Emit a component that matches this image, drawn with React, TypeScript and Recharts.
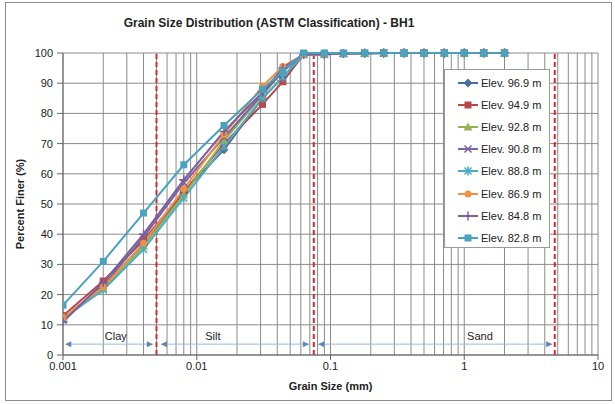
import React from 'react';
import { LineChart, Line, XAxis, YAxis, CartesianGrid, ReferenceLine, ReferenceDot } from 'recharts';

// sieve / hydrometer sizes (mm)
const grainSizes = [0.001, 0.002, 0.004, 0.008, 0.016, 0.031, 0.044, 0.063, 0.09, 0.125, 0.18, 0.25, 0.355, 0.5, 0.71, 1, 1.4, 2];

// percent finer per borehole elevation
const elev969 = [12, 23, 36.5, 54, 68, 85, 92, 99.5, 99.6, 99.8, 99.9, 100, 100, 100, 100, 100, 100, 100];
const elev949 = [13, 24.5, 38, 54, 70, 83, 90.5, 99.5, 99.6, 99.8, 99.9, 100, 100, 100, 100, 100, 100, 100];
const elev928 = [12, 22, 36, 53, 71, 86, 94, 99.5, 99.6, 99.8, 99.9, 100, 100, 100, 100, 100, 100, 100];
const elev908 = [11.5, 23, 39, 57, 72, 86.5, 94, 99.5, 99.6, 99.8, 99.9, 100, 100, 100, 100, 100, 100, 100];
const elev888 = [12, 21.5, 35, 52, 69, 85, 92, 99.5, 99.6, 99.8, 99.9, 100, 100, 100, 100, 100, 100, 100];
const elev869 = [12.5, 22.5, 37, 55, 73, 89, 95.5, 99.5, 99.6, 99.8, 99.9, 100, 100, 100, 100, 100, 100, 100];
const elev848 = [11, 24, 40, 58, 74, 87, 95, 99.5, 99.6, 99.8, 99.9, 100, 100, 100, 100, 100, 100, 100];
const elev828 = [16.5, 31, 47, 63, 76, 88, 94, 100, 100, 100, 100, 100, 100, 100, 100, 100, 100, 100];

const seriesValues = [elev969, elev949, elev928, elev908, elev888, elev869, elev848, elev828];
const seriesNames = ['Elev. 96.9 m', 'Elev. 94.9 m', 'Elev. 92.8 m', 'Elev. 90.8 m', 'Elev. 88.8 m', 'Elev. 86.9 m', 'Elev. 84.8 m', 'Elev. 82.8 m'];
const seriesColors = ['#4A6F9C', '#B8474A', '#94B356', '#7B62A0', '#4BACC6', '#F29143', '#7A5FA0', '#4AA3BC'];
const seriesMarkers = ['diamond', 'square', 'triangle', 'x', 'star', 'circle', 'plus', 'square'];

const xTicks = [0.001, 0.01, 0.1, 1, 10];
const yTicks = [0, 10, 20, 30, 40, 50, 60, 70, 80, 90, 100];
const minorGrid = [0.001, 0.01, 0.1, 1].flatMap((d) => [2, 3, 4, 5, 6, 7, 8, 9].map((m) => +(m * d).toPrecision(3)));

// ASTM boundaries and zone arrows
const boundarySizes = [0.005, 0.075, 4.75];
const zoneNames = ['Clay', 'Silt', 'Sand'];
const zoneFrom = [0.00104, 0.0054, 0.081];
const zoneTo = [0.0047, 0.069, 4.55];
const zoneLabelAt = [0.00248, 0.0132, 1.31];
const zoneLevel = 3.6;

const rows = grainSizes.map((size, i) => {
  const row: Record<string, number> = { size };
  seriesValues.forEach((vals, s) => { row['s' + s] = vals[i]; });
  return row;
});

function marker(kind: string, cx: number, cy: number, color: string, key?: string | number) {
  const r = 3.5;
  switch (kind) {
    case 'diamond':
      return <polygon key={key} points={`${cx},${cy - 4.5} ${cx + 4.5},${cy} ${cx},${cy + 4.5} ${cx - 4.5},${cy}`} fill={color} />;
    case 'square':
      return <rect key={key} x={cx - r} y={cy - r} width={2 * r} height={2 * r} fill={color} />;
    case 'triangle':
      return <polygon key={key} points={`${cx},${cy - 4.5} ${cx + 4.5},${cy + 3.5} ${cx - 4.5},${cy + 3.5}`} fill={color} />;
    case 'x':
      return <path key={key} d={`M${cx - r},${cy - r}L${cx + r},${cy + r}M${cx - r},${cy + r}L${cx + r},${cy - r}`} stroke={color} strokeWidth={1.5} fill="none" />;
    case 'star':
      return <path key={key} d={`M${cx - r},${cy - r}L${cx + r},${cy + r}M${cx - r},${cy + r}L${cx + r},${cy - r}M${cx},${cy - 4.5}L${cx},${cy + 4.5}`} stroke={color} strokeWidth={1.5} fill="none" />;
    case 'circle':
      return <circle key={key} cx={cx} cy={cy} r={3.5} fill={color} />;
    case 'plus':
      return <path key={key} d={`M${cx - 4.5},${cy}L${cx + 4.5},${cy}M${cx},${cy - 4.5}L${cx},${cy + 4.5}`} stroke={color} strokeWidth={1.5} fill="none" />;
    default:
      return <g key={key} />;
  }
}

const arrowHead = (dir: number) => (props: any) => {
  const { cx, cy } = props;
  const c = '#5B87B8';
  return <polygon points={`${cx},${cy} ${cx - dir * 6},${cy - 3} ${cx - dir * 6},${cy + 3}`} fill={c} />;
};

const zoneText = (name: string) => (props: any) => (
  <text x={props.cx} y={props.cy - 4} textAnchor="middle" fontSize={11} fill="#222">{name}</text>
);

export default function App() {
  return (
    <div style={{ position: 'absolute', left: 0, top: 0, width: 615, height: 404, background: '#fff', fontFamily: '"Liberation Sans", Arial, sans-serif' }}>
      <div style={{ position: 'absolute', left: 5, top: 2, width: 605, height: 397, border: '1px solid #8c8c8c' }} />
      <div style={{ position: 'absolute', left: 0, top: 16, width: 538, textAlign: 'center', fontWeight: 'bold', fontSize: 12, color: '#222' }}>
        Grain Size Distribution (ASTM Classification) - BH1
      </div>
      <div style={{ position: 'absolute', left: 0, top: 0 }}>
        <LineChart width={615} height={404} data={rows} margin={{ top: 53, right: 17, bottom: 9, left: 0 }}>
          <CartesianGrid stroke="#8a8a8a" />
          {minorGrid.map((v) => (
            <ReferenceLine key={'g' + v} x={v} stroke="#8a8a8a" />
          ))}
          <XAxis
            dataKey="size"
            type="number"
            scale="log"
            domain={[0.001, 10]}
            ticks={xTicks}
            allowDataOverflow
            height={40}
            stroke="#666"
            tickSize={5}
            tickMargin={2}
            tick={{ fontSize: 11, fill: '#222' }}
            label={{ value: 'Grain Size (mm)', position: 'insideBottom', offset: 5, fontSize: 11, fontWeight: 'bold', fill: '#222' }}
          />
          <YAxis
            type="number"
            domain={[0, 100]}
            ticks={yTicks}
            width={63}
            stroke="#666"
            tickSize={6}
            tickMargin={4}
            tick={{ fontSize: 11, fill: '#222' }}
            label={{ value: 'Percent Finer (%)', angle: -90, position: 'insideLeft', offset: 20, fontSize: 11, fontWeight: 'bold', fill: '#222', style: { textAnchor: 'middle' } }}
          />
          {boundarySizes.map((v) => (
            <ReferenceLine key={'b' + v} x={v} stroke="#E0262C" strokeWidth={2} strokeDasharray="5 3" />
          ))}
          {zoneNames.map((name, i) => (
            <ReferenceLine
              key={'z' + name}
              segment={[{ x: zoneFrom[i], y: zoneLevel }, { x: zoneTo[i], y: zoneLevel }]}
              stroke="#9DB9D9"
              strokeWidth={1}
            />
          ))}
          {zoneNames.map((name, i) => (
            <ReferenceDot key={'l' + name} x={zoneFrom[i]} y={zoneLevel} shape={arrowHead(-1)} />
          ))}
          {zoneNames.map((name, i) => (
            <ReferenceDot key={'r' + name} x={zoneTo[i]} y={zoneLevel} shape={arrowHead(1)} />
          ))}
          {zoneNames.map((name, i) => (
            <ReferenceDot key={'t' + name} x={zoneLabelAt[i]} y={zoneLevel} shape={zoneText(name)} />
          ))}
          {seriesNames.map((name, s) => (
            <Line
              key={name}
              name={name}
              dataKey={'s' + s}
              type="linear"
              stroke={seriesColors[s]}
              strokeWidth={2}
              isAnimationActive={false}
              activeDot={false}
              dot={(p: any) => (p.cx == null ? <g key={p.index} /> : marker(seriesMarkers[s], p.cx, p.cy, seriesColors[s], p.index))}
            />
          ))}
        </LineChart>
      </div>
      <div style={{ position: 'absolute', left: 444, top: 69, width: 106, height: 179, background: '#fff', border: '1px solid #9a9a9a', boxSizing: 'border-box' }}>
        {seriesNames.map((name, s) => (
          <div key={name} style={{ position: 'absolute', left: 12, top: 6 + s * 22.1, height: 14, display: 'flex', alignItems: 'center', fontSize: 11, color: '#222', whiteSpace: 'nowrap' }}>
            <svg width={22} height={12} style={{ marginRight: 2 }}>
              <line x1={1} y1={6} x2={21} y2={6} stroke={seriesColors[s]} strokeWidth={2} />
              {marker(seriesMarkers[s], 11, 6, seriesColors[s])}
            </svg>
            {name}
          </div>
        ))}
      </div>
    </div>
  );
}
